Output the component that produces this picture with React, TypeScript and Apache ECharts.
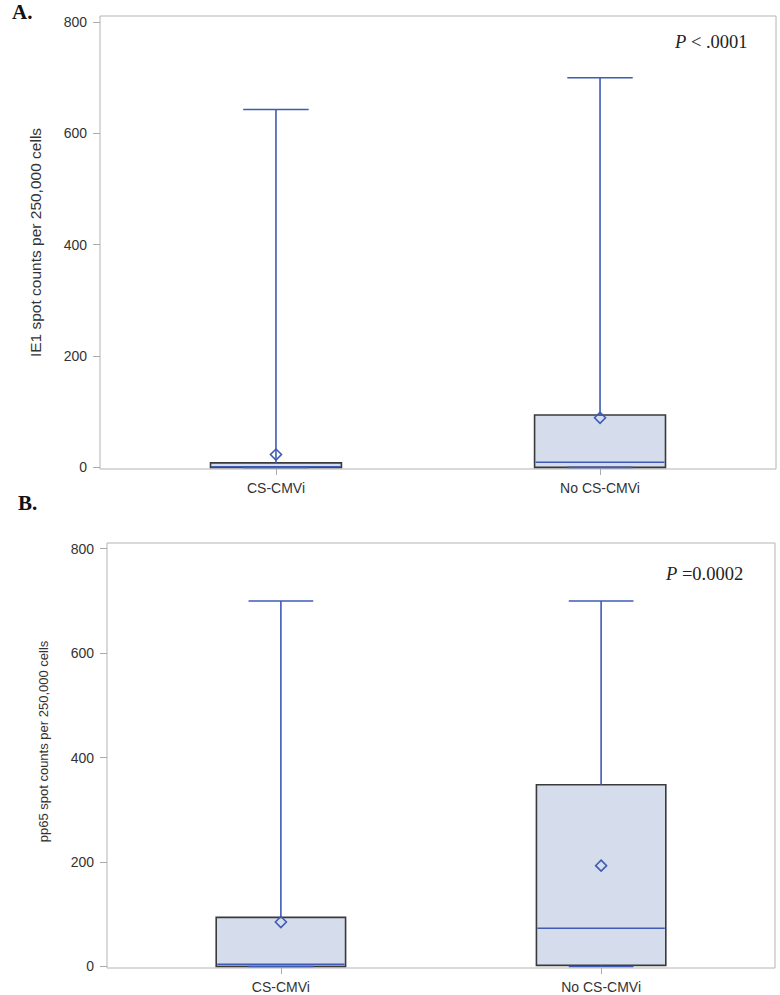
import React, { useEffect, useRef } from "react";
import * as echarts from "echarts";

const categories = ["CS-CMVi", "No CS-CMVi"];
const yTicks = [0, 200, 400, 600, 800];
// [min, q1, median, q3, max, mean]
const ie1CS = [0, 0, 1, 8, 643, 23];
const ie1NoCS = [0, 0, 9, 94, 700, 89];
const pp65CS = [0, 0, 4, 94, 700, 85];
const pp65NoCS = [0, 2, 73, 348, 700, 193];
const pTextA = "< .0001";
const pTextB = "=0.0002";
const yNameA = "IE1 spot counts per 250,000 cells";
const yNameB = "pp65 spot counts per 250,000 cells";

const BLUE = "#3f5bb3";
const FILL = "#d5ddec";
const EDGE = "#3a3a3a";

function toData(list: number[][]) {
  return list.map((v, i) => [i, ...v]);
}

function renderBox(params: any, api: any) {
  const x = api.value(0);
  const mn = api.value(1), q1 = api.value(2), med = api.value(3), q3 = api.value(4), mx = api.value(5), mean = api.value(6);
  const cx = api.coord([x, 0])[0];
  const yy = (v: number) => api.coord([x, v])[1];
  const w = api.size([0.404, 0])[0];
  const cap = w / 4;
  const yMin = yy(mn), yQ1 = yy(q1), yMed = yy(med), yQ3 = yy(q3), yMax = yy(mx), yMean = yy(mean);
  const ls = { stroke: BLUE, lineWidth: 1.6 };
  const d = 5.5;
  return {
    type: "group",
    children: [
      { type: "rect", shape: { x: cx - w / 2, y: yQ3, width: w, height: Math.max(yQ1 - yQ3, 1) }, style: { fill: FILL, stroke: EDGE, lineWidth: 1.6 } },
      { type: "line", shape: { x1: cx - w / 2 + 1, y1: yMed, x2: cx + w / 2 - 1, y2: yMed }, style: ls },
      { type: "line", shape: { x1: cx, y1: yQ3, x2: cx, y2: yMax }, style: ls },
      { type: "line", shape: { x1: cx - cap, y1: yMax, x2: cx + cap, y2: yMax }, style: ls },
      { type: "line", shape: { x1: cx, y1: yQ1, x2: cx, y2: yMin }, style: ls },
      { type: "line", shape: { x1: cx - cap, y1: yMin, x2: cx + cap, y2: yMin }, style: ls },
      { type: "polygon", shape: { points: [[cx, yMean - d], [cx + d, yMean], [cx, yMean + d], [cx - d, yMean]] }, style: { fill: "none", stroke: BLUE, lineWidth: 1.6 } },
    ],
  };
}

export default function App() {
  const ref = useRef<HTMLDivElement>(null);
  useEffect(() => {
    document.body.style.margin = "0";
    const chart = echarts.init(ref.current!, null, { renderer: "svg" });
    const font = "'Liberation Sans', Arial, sans-serif";
    const serif = "'Liberation Serif', 'Times New Roman', serif";
    const mkX = (gi: number) => ({
      type: "value",
      gridIndex: gi,
      min: -0.543,
      max: 1.543,
      splitLine: { show: false },
      axisLine: { show: false, onZero: false },
      axisTick: { show: true, customValues: [0, 1], length: 6, lineStyle: { color: "#aaa" } },
      axisLabel: {
        customValues: [0, 1],
        formatter: (v: number) => categories[Math.round(v)],
        fontFamily: font,
        fontSize: 14,
        color: "#333",
        margin: 12,
      },
    });
    const mkY = (gi: number) => ({
      type: "value",
      gridIndex: gi,
      min: -3,
      max: 811,
      splitLine: { show: false },
      axisLine: { show: false, onZero: false },
      axisTick: { show: true, customValues: yTicks, length: 7, lineStyle: { color: "#aaa" } },
      axisLabel: { customValues: yTicks, fontFamily: font, fontSize: 14, color: "#333", margin: 13 },
    });
    chart.setOption({
      animation: false,
      grid: [
        { left: 100, top: 16, width: 676, height: 453, show: true, borderColor: "#b4b4b4", borderWidth: 1, backgroundColor: "#fff" },
        { left: 107, top: 543, width: 668, height: 425, show: true, borderColor: "#b4b4b4", borderWidth: 1, backgroundColor: "#fff" },
      ],
      xAxis: [mkX(0), mkX(1)],
      yAxis: [mkY(0), mkY(1)],
      series: [
        { type: "custom", xAxisIndex: 0, yAxisIndex: 0, renderItem: renderBox, encode: { x: 0, y: [1, 2, 3, 4, 5, 6] }, data: toData([ie1CS, ie1NoCS]), clip: false },
        { type: "custom", xAxisIndex: 1, yAxisIndex: 1, renderItem: renderBox, encode: { x: 0, y: [1, 2, 3, 4, 5, 6] }, data: toData([pp65CS, pp65NoCS]), clip: false },
      ],
      graphic: [
        { type: "text", left: 12, top: 1, style: { text: "A.", font: `bold 21px ${serif}`, fill: "#111" } },
        { type: "text", left: 18, top: 492, style: { text: "B.", font: `bold 21px ${serif}`, fill: "#111" } },
        {
          type: "text", x: 35, y: 242.5, rotation: Math.PI / 2,
          style: { text: yNameA, font: `15.5px ${font}`, fill: "#333", align: "center", verticalAlign: "middle" },
        },
        {
          type: "text", x: 43, y: 741.5, rotation: Math.PI / 2,
          style: { text: yNameB, font: `13px ${font}`, fill: "#333", align: "center", verticalAlign: "middle" },
        },
        {
          type: "text", left: 675, top: 32,
          style: {
            text: "{i|P} " + pTextA,
            font: `18.5px ${serif}`, fill: "#222",
            rich: { i: { fontStyle: "italic", fontFamily: serif, fontSize: 18.5, fill: "#222" } },
          },
        },
        {
          type: "text", left: 666, top: 564,
          style: {
            text: "{i|P} " + pTextB,
            font: `18.5px ${serif}`, fill: "#222",
            rich: { i: { fontStyle: "italic", fontFamily: serif, fontSize: 18.5, fill: "#222" } },
          },
        },
      ],
    });
    return () => chart.dispose();
  }, []);
  return <div ref={ref} style={{ position: "absolute", left: 0, top: 0, width: 780, height: 995 }} />;
}
